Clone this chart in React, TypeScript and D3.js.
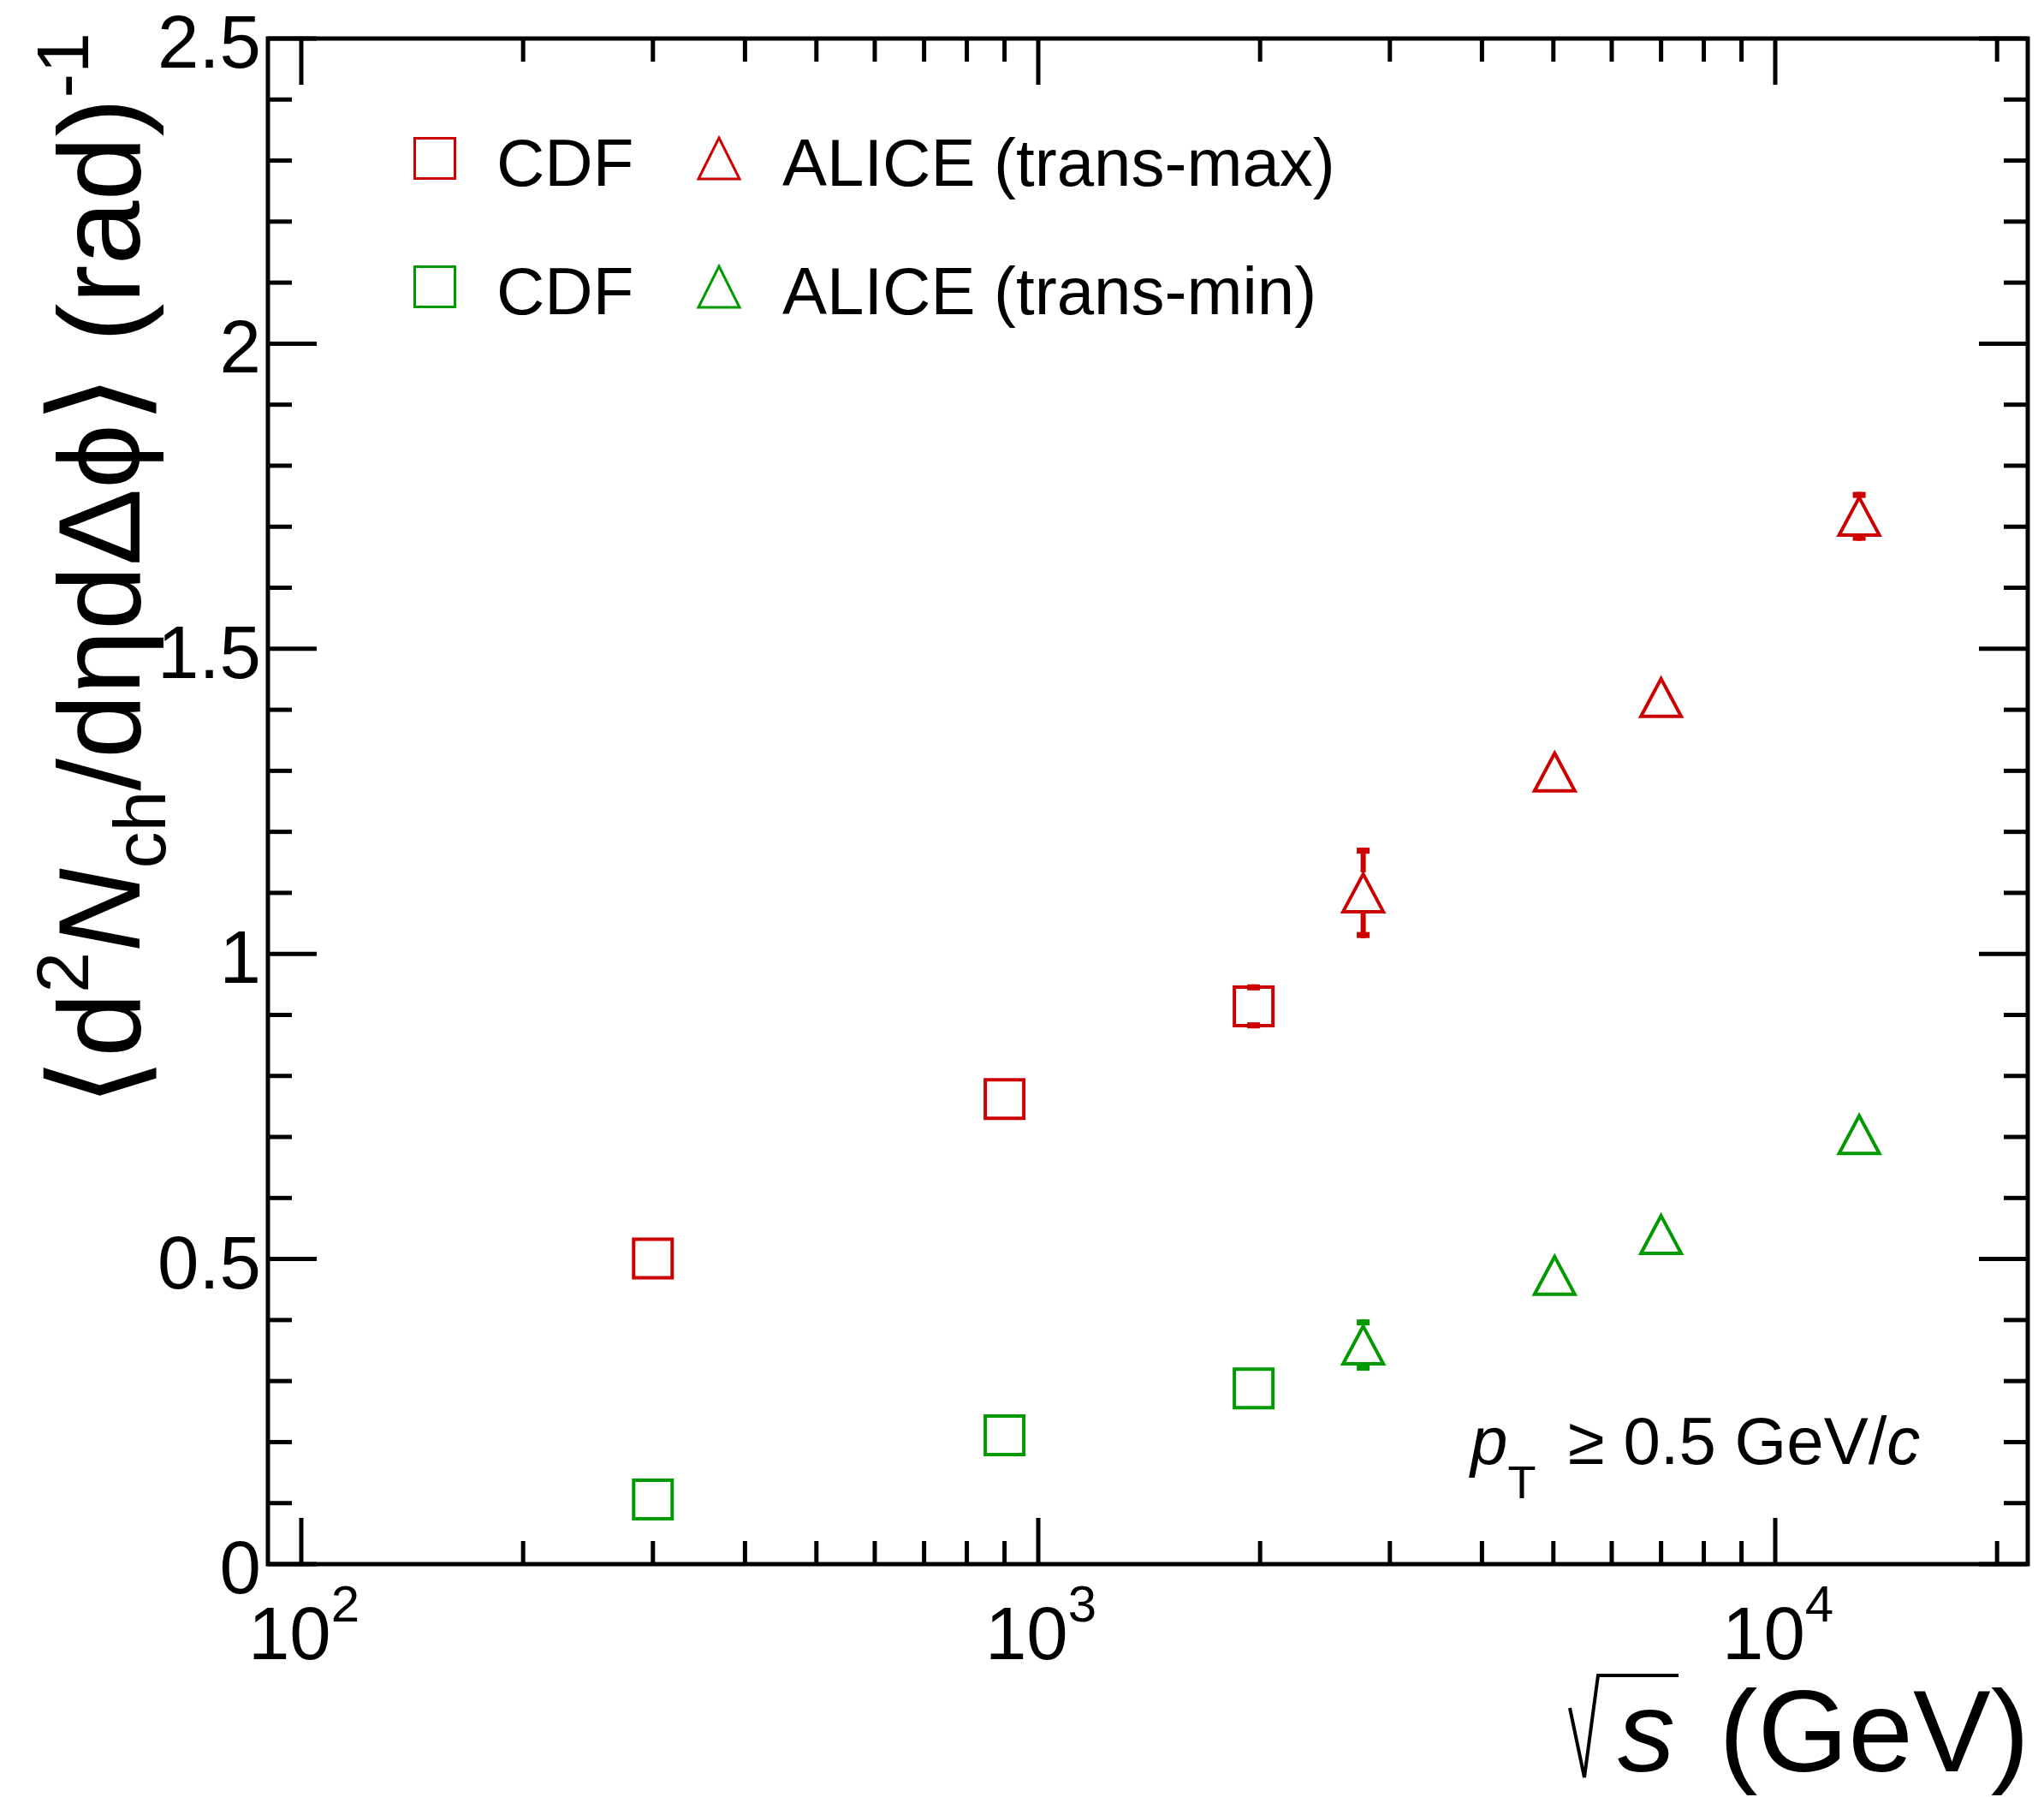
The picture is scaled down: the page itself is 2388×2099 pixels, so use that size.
import React from "react";
import * as d3 from "d3";

const W = 2388;
const H = 2099;
const frame = { left: 313, top: 45, right: 2369, bottom: 1827 };

// sqrt(s) in GeV
const cdfEnergy = [300, 900, 1960];
const cdfTransMax = [0.501, 0.762, 0.914];
const cdfTransMaxErr = [0.01, 0.015, 0.036];
const cdfTransMin = [0.106, 0.211, 0.288];
const cdfTransMinErr = [0.005, 0.008, 0.01];

const aliceEnergy = [2760, 5020, 7000, 13000];
const aliceTransMax = [1.1, 1.298, 1.42, 1.717];
const aliceTransMaxErr = [0.074, 0.02, 0.025, 0.04];
const aliceTransMin = [0.359, 0.473, 0.54, 0.704];
const aliceTransMinErr = [0.042, 0.015, 0.015, 0.02];

const yTickLabels = ["0", "0.5", "1", "1.5", "2", "2.5"];
const xDecades = [2, 3, 4];

const RED = "#cc0000";
const GREEN = "#009900";
const FONT = "'Liberation Sans', Arial, Helvetica, sans-serif";
const BRACKET_FONT = "'DejaVu Sans', sans-serif";

const xScale = d3.scaleLog().domain([90.1, 22010]).range([frame.left, frame.right]);
const yScale = d3.scaleLinear().domain([0, 2.5]).range([frame.bottom, frame.top]);

const squarePath = (s) => `M${-s / 2},${-s / 2}H${s / 2}V${s / 2}H${-s / 2}Z`;
const trianglePath = (w, h) => `M0,${-h / 2}L${w / 2},${h / 2}L${-w / 2},${h / 2}Z`;

const SQ = 45;
const TRI_W = 47;
const TRI_H = 44;

function Series({ xs, ys, errs, color, shape }) {
	const half = shape === "square" ? SQ / 2 + 2 : TRI_H / 2 + 2;
	return (
		<g>
			{xs.map((x, i) => {
				const cx = xScale(x);
				const cy = yScale(ys[i]);
				const yHi = yScale(ys[i] + errs[i]);
				const yLo = yScale(ys[i] - errs[i]);
				const showErr = cy - yHi > half - 1;
				return (
					<g key={i}>
						{showErr && (
							<g fill={color} stroke="none">
								<rect x={cx - 3} y={yHi} width={6} height={cy - half - yHi} />
								<rect x={cx - 3} y={cy + half} width={6} height={yLo - cy - half} />
								<rect x={cx - 7.5} y={yHi} width={15} height={7} />
								<rect x={cx - 7.5} y={yLo - 7} width={15} height={7} />
							</g>
						)}
						<path
							d={shape === "square" ? squarePath(SQ) : trianglePath(TRI_W, TRI_H)}
							transform={`translate(${cx},${cy})`}
							fill="none"
							stroke={color}
							strokeWidth={4}
						/>
					</g>
				);
			})}
		</g>
	);
}

export default function App() {
	const majorX = xDecades.map((e) => Math.pow(10, e));
	const minorX = [];
	xDecades.forEach((e) => {
		for (let k = 2; k <= 9; k++) {
			const v = k * Math.pow(10, e);
			if (v <= 22000) minorX.push(v);
		}
	});
	const yMinor = d3.range(0, 26).map((i) => i / 10);

	return (
		<svg
			width={W}
			height={H}
			viewBox={`0 0 ${W} ${H}`}
			style={{ position: "absolute", left: 0, top: 0, background: "#fff" }}
			fontFamily={FONT}
		>
			<rect x={0} y={0} width={W} height={H} fill="#fff" />

			{/* ticks, all four sides */}
			<g stroke="#000" strokeWidth={5}>
				{majorX.map((v) => (
					<g key={"mx" + v}>
						<line x1={xScale(v)} x2={xScale(v)} y1={frame.bottom} y2={frame.bottom - 54} />
						<line x1={xScale(v)} x2={xScale(v)} y1={frame.top} y2={frame.top + 54} />
					</g>
				))}
				{minorX.map((v) => (
					<g key={"nx" + v}>
						<line x1={xScale(v)} x2={xScale(v)} y1={frame.bottom} y2={frame.bottom - 27} />
						<line x1={xScale(v)} x2={xScale(v)} y1={frame.top} y2={frame.top + 27} />
					</g>
				))}
				{yMinor.map((v, i) => {
					const len = i % 5 === 0 ? 57 : 28;
					return (
						<g key={"y" + i}>
							<line x1={frame.left} x2={frame.left + len} y1={yScale(v)} y2={yScale(v)} />
							<line x1={frame.right} x2={frame.right - len} y1={yScale(v)} y2={yScale(v)} />
						</g>
					);
				})}
			</g>

			<rect
				x={frame.left}
				y={frame.top}
				width={frame.right - frame.left}
				height={frame.bottom - frame.top}
				fill="none"
				stroke="#000"
				strokeWidth={5}
			/>

			{/* y tick labels */}
			<g fontSize={87} textAnchor="end">
				{yTickLabels.map((t, i) => (
					<text key={t} x={frame.left - 8} y={yScale(i * 0.5) + 34}>
						{t}
					</text>
				))}
			</g>

			{/* x tick labels */}
			<g fontSize={87}>
				{xDecades.map((e) => (
					<text key={e} x={xScale(Math.pow(10, e)) - 62} y={1938}>
						10
						<tspan fontSize={60} dy={-44}>
							{e}
						</tspan>
					</text>
				))}
			</g>

			{/* x title */}
			<path
				d="M1834,1995L1851,2076L1867,1957H1961"
				fill="none"
				stroke="#000"
				strokeWidth={4}
			/>
			<text x={1890} y={2069} fontSize={134} fontStyle="italic">s</text>
			<text x={frame.right + 2} y={2069} fontSize={136} textAnchor="end">(GeV)</text>

			{/* y title */}
			<text
				transform={`translate(163,38) rotate(-90)`}
				fontSize={135}
				textAnchor="end"
			>
				<tspan fontFamily={BRACKET_FONT} fontWeight={200} fontSize={148}>⟨</tspan>
				d
				<tspan fontSize={86} dy={-60}>2</tspan>
				<tspan fontStyle="italic" dy={60}>N</tspan>
				<tspan fontSize={86} dy={30}>ch</tspan>
				<tspan dy={-30}>/dηdΔϕ</tspan>
				<tspan fontFamily={BRACKET_FONT} fontWeight={200} fontSize={148}>⟩</tspan>
				{" (rad)"}
				<tspan fontSize={86} dy={-60}>-1</tspan>
			</text>

			{/* data */}
			<Series xs={cdfEnergy} ys={cdfTransMax} errs={cdfTransMaxErr} color={RED} shape="square" />
			<Series xs={cdfEnergy} ys={cdfTransMin} errs={cdfTransMinErr} color={GREEN} shape="square" />
			<Series xs={aliceEnergy} ys={aliceTransMax} errs={aliceTransMaxErr} color={RED} shape="triangle" />
			<Series xs={aliceEnergy} ys={aliceTransMin} errs={aliceTransMinErr} color={GREEN} shape="triangle" />

			{/* legend */}
			<g fill="none" strokeWidth={3}>
				<path d={squarePath(47)} transform="translate(508,185)" stroke={RED} />
				<path d={trianglePath(48, 48)} transform="translate(840,185)" stroke={RED} />
				<path d={squarePath(47)} transform="translate(508,335)" stroke={GREEN} />
				<path d={trianglePath(48, 48)} transform="translate(840,335)" stroke={GREEN} />
			</g>
			<g fontSize={78}>
				<text x={580} y={217}>CDF</text>
				<text x={914} y={217}>ALICE (trans-max)</text>
				<text x={580} y={367}>CDF</text>
				<text x={914} y={367}>ALICE (trans-min)</text>
			</g>

			{/* cut annotation */}
			<text x={1718} y={1710} fontSize={78}>
				<tspan fontStyle="italic">p</tspan>
				<tspan fontSize={54} dy={40}>T</tspan>
				<tspan x={1832} dy={-40}>≥ 0.5 GeV/</tspan>
				<tspan fontStyle="italic">c</tspan>
			</text>
		</svg>
	);
}
